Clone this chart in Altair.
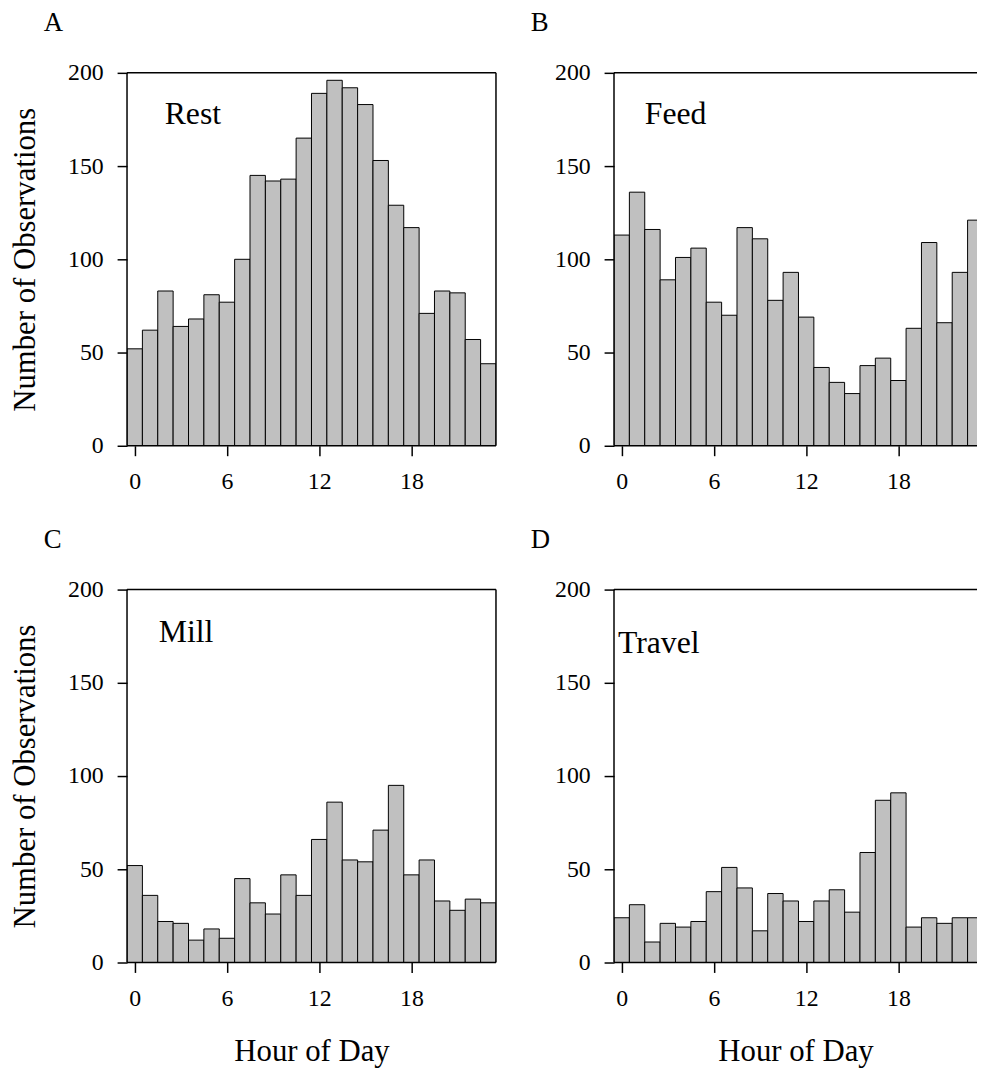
import altair as alt
import pandas as pd

hours = list(range(24))
rest = [52, 62, 83, 64, 68, 81, 77, 100, 145, 142, 143, 165, 189, 196, 192, 183, 153, 129, 117, 71, 83, 82, 57, 44]
feed = [113, 136, 116, 89, 101, 106, 77, 70, 117, 111, 78, 93, 69, 42, 34, 28, 43, 47, 35, 63, 109, 66, 93, 121]
mill = [52, 36, 22, 21, 12, 18, 13, 45, 32, 26, 47, 36, 66, 86, 55, 54, 71, 95, 47, 55, 33, 28, 34, 32]
travel = [24, 31, 11, 21, 19, 22, 38, 51, 40, 17, 37, 33, 22, 33, 39, 27, 59, 87, 91, 19, 24, 21, 24, 24]

x_ticks = [0, 6, 12, 18]
y_ticks = [0, 50, 100, 150, 200]
FONT = "Liberation Serif"
W, H = 372, 376
WB = 366  # right-hand panels are cut at the page edge


def panel(vals, name, letter, name_x, name_y, ytitle, xtitle, width):
    df = pd.DataFrame({"hour": hours, "count": vals})
    xmax = -0.5 + width * 24.0 / W
    xaxis = dict(values=x_ticks, labelFlush=False, title=("Hour of Day" if xtitle else None))
    yaxis = dict(values=y_ticks, title=("Number of Observations" if ytitle else None))
    bars = (
        alt.Chart(df)
        .transform_calculate(lo="datum.hour - 0.5", hi="datum.hour + 0.5")
        .mark_bar(fill="#c0c0c0", stroke="black", strokeWidth=1, clip=True)
        .encode(
            x=alt.X("lo:Q", scale=alt.Scale(domain=[-0.5, xmax], nice=False, zero=False), axis=alt.Axis(**xaxis)),
            x2="hi:Q",
            y=alt.Y("count:Q", scale=alt.Scale(domain=[0, 200], nice=False), axis=alt.Axis(**yaxis)),
            y2=alt.datum(0),
        )
    )
    one = pd.DataFrame({"a": [0]})
    frame_style = dict(color="black", strokeWidth=1.5)
    top = alt.Chart(one).mark_rule(**frame_style).encode(x=alt.value(0), x2=alt.value(width), y=alt.value(0))
    bottom = alt.Chart(one).mark_rule(**frame_style).encode(x=alt.value(0), x2=alt.value(width), y=alt.value(H))
    left = alt.Chart(one).mark_rule(**frame_style).encode(x=alt.value(0), y=alt.value(0), y2=alt.value(H))
    layers = [bars, top, bottom, left]
    if width == W:
        right = alt.Chart(one).mark_rule(**frame_style).encode(x=alt.value(W), y=alt.value(0), y2=alt.value(H))
        layers.append(right)
    lt = (
        alt.Chart(pd.DataFrame({"t": [letter]}))
        .mark_text(align="left", baseline="alphabetic", font=FONT, fontSize=27, color="black")
        .encode(x=alt.value(-84), y=alt.value(-42), text="t:N")
    )
    nt = (
        alt.Chart(pd.DataFrame({"t": [name]}))
        .mark_text(align="left", baseline="alphabetic", font=FONT, fontSize=32, color="black")
        .encode(x=alt.value(name_x), y=alt.value(name_y), text="t:N")
    )
    layers += [lt, nt]
    return alt.layer(*layers).properties(width=width, height=H)


pA = panel(rest, "Rest", "A", 38, 52, True, False, W)
pB = panel(feed, "Feed", "B", 31, 52, False, False, WB)
pC = panel(mill, "Mill", "C", 32, 53, True, True, W)
pD = panel(travel, "Travel", "D", 4, 64, False, True, WB)

chart = (
    alt.vconcat(
        alt.hconcat(pA, pB, spacing=34),
        alt.hconcat(pC, pD, spacing=34),
        spacing=33,
    )
    .configure_view(strokeWidth=0)
    .configure_axis(
        domain=False,
        grid=False,
        tickColor="black",
        tickSize=10,
        tickWidth=1.5,
        labelFont=FONT,
        labelFontSize=24,
        labelColor="black",
        titleFont=FONT,
        titleFontSize=31,
        titleFontWeight="normal",
        titleColor="black",
    )
    .configure_axisY(labelPadding=14, titlePadding=26)
    .configure_axisX(labelPadding=14, titlePadding=27)
    .properties(padding={"left": 2, "top": -3, "right": 0, "bottom": 0})
)

chart.save("out.html", embed_options={"renderer": "svg", "actions": False})
